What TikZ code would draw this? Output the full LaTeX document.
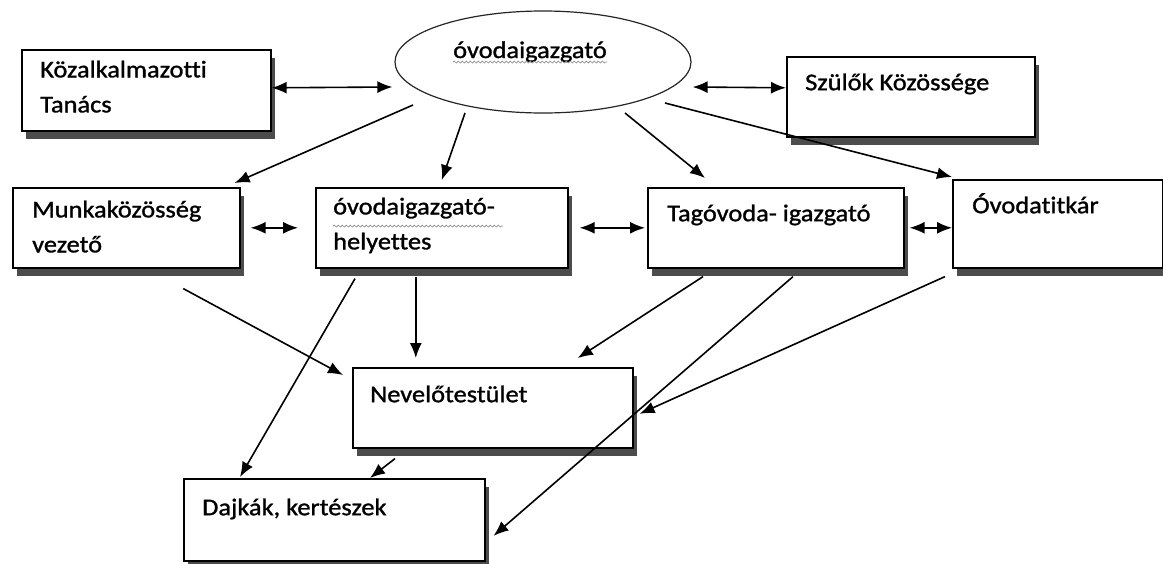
\documentclass[tikz,border=0pt]{standalone}
\usepackage{fontspec}
\setmainfont{Carlito}[FakeStretch=1.1, FakeBold=1.2, Ligatures=CommonOff]
\usetikzlibrary{shapes.geometric,shadows,arrows.meta,decorations.pathmorphing}

\tikzset{
    orgbox/.style={draw, line width=1.6pt, fill=white, anchor=north west, inner sep=0pt,
        drop shadow={shadow xshift=4.5pt, shadow yshift=-8.5pt, fill=black!70, opacity=1}},
    lbl/.style={anchor=north west, inner sep=0pt, align=left,
        font=\fontsize{24}{35}\selectfont, execute at begin node=\strut},
    arr/.style={-{Latex[length=15pt,width=12pt]}, line width=1.6pt},
    dbl/.style={{Latex[length=15pt,width=12pt]}-{Latex[length=15pt,width=12pt]}, line width=1.6pt},
    wavy/.style={decorate, decoration={snake, amplitude=1pt, segment length=4pt}, black!45, line width=0.7pt}
}

\begin{document}
\begin{tikzpicture}[x=1pt,y=-1pt]
    \path[use as bounding box, fill=white] (0,0) rectangle (1163,563);

    % Director
    \node[draw, ellipse, line width=1.2pt, black!85, minimum width=296, minimum height=102] (oig) at (543,62) {};
    \node[lbl, anchor=base west] (oigx) at ([shift={(-90,-4)}]oig.center) {óvodaigazgató};
    \draw[wavy] ([yshift=-4pt]oigx.base west) -- ([yshift=-4pt]oigx.base east);

    % Boxes
    \node[orgbox, minimum width=249, minimum height=81] (kt) at (21,49) {};
    \node[orgbox, minimum width=248, minimum height=80] (szk) at (786,56) {};
    \node[orgbox, minimum width=227, minimum height=80] (mkv) at (12,187) {};
    \node[orgbox, minimum width=252, minimum height=80] (oih) at (315,187) {};
    \node[orgbox, minimum width=256, minimum height=80] (tig) at (647,187) {};
    \node[orgbox, minimum width=210, minimum height=88] (otk) at (952,179) {};
    \node[orgbox, minimum width=280, minimum height=80] (nt) at (352,367) {};
    \node[orgbox, minimum width=301, minimum height=82] (dk) at (183,478) {};

    % Texts
    \node[lbl] (ktx) at ([shift={(19,11.5)}]kt.north west) {Közalkalmazotti\\Tanács};
    \node[lbl] (szkx) at ([shift={(19,9.5)}]szk.north west) {Szülők Közössége};
    \node[lbl] (mkvx) at ([shift={(20,13.5)}]mkv.north west) {Munkaközösség\\vezető};
    \node[lbl] (oihx) at ([shift={(18,10.5)}]oih.north west) {óvodaigazgató-\\helyettes};
    \node[lbl] (tigx) at ([shift={(20,9.5)}]tig.north west) {Tagóvoda- igazgató};
    \node[lbl] (otkx) at ([shift={(20,9.5)}]otk.north west) {Óvodatitkár};
    \node[lbl] (ntx) at ([shift={(18,10.5)}]nt.north west) {Nevelőtestület};
    \node[lbl] (dkx) at ([shift={(19,12.5)}]dk.north west) {Dajkák, kertészek};
    \draw[wavy] ([shift={(18,39)}]oih.north west) -- ([shift={(188,39)}]oih.north west);

    % Arrows, top
    \draw[dbl] ([yshift=2.5pt]kt.east) -- ([shift={(-2,25)}]oig.west);
    \draw[dbl] ([shift={(1,25)}]oig.east) -- ([yshift=9pt]szk.west);
    \draw[arr] ([shift={(-130,43)}]oig.center) -- ([shift={(-6,-4)}]mkv.north east);
    \draw[arr] ([shift={(-78,51)}]oig.center) -- ([yshift=7pt]oih.north);
    \draw[arr] ([shift={(82,51)}]oig.center) -- ([shift={(58,-9)}]tig.north west);
    \draw[arr] ([shift={(122,41)}]oig.center) -- ([yshift=2pt]otk.north west);

    % Arrows, middle row
    \draw[dbl] ([xshift=10pt]mkv.east) -- ([xshift=-17pt]oih.west);
    \draw[dbl] ([xshift=11pt]oih.east) -- ([xshift=-2pt]tig.west);
    \draw[dbl] ([xshift=5pt]tig.east) -- (tig.east -| otk.west);

    % Arrows, down
    \draw[arr] ([shift={(57,20)}]mkv.south) -- ([shift={(-9,8)}]nt.north west);
    \draw[arr] ([shift={(40,10)}]oih.south west) -- ([shift={(57,-1)}]dk.north west);
    \draw[arr] ([shift={(-26,8)}]oih.south) -- ([shift={(-77,-9)}]nt.north);
    \draw[arr] ([shift={(56,8)}]tig.south west) -- ([shift={(85,-9)}]nt.north);
    \draw[arr] ([shift={(146,8)}]tig.south west) -- ([shift={(8,16)}]dk.east);
    \draw[arr] ([shift={(-7,8)}]otk.south west) -- ([shift={(6,6)}]nt.east);
    \draw[arr] ([shift={(43,10)}]nt.south west) -- ([shift={(187,0)}]dk.north west);
\end{tikzpicture}
\end{document}
